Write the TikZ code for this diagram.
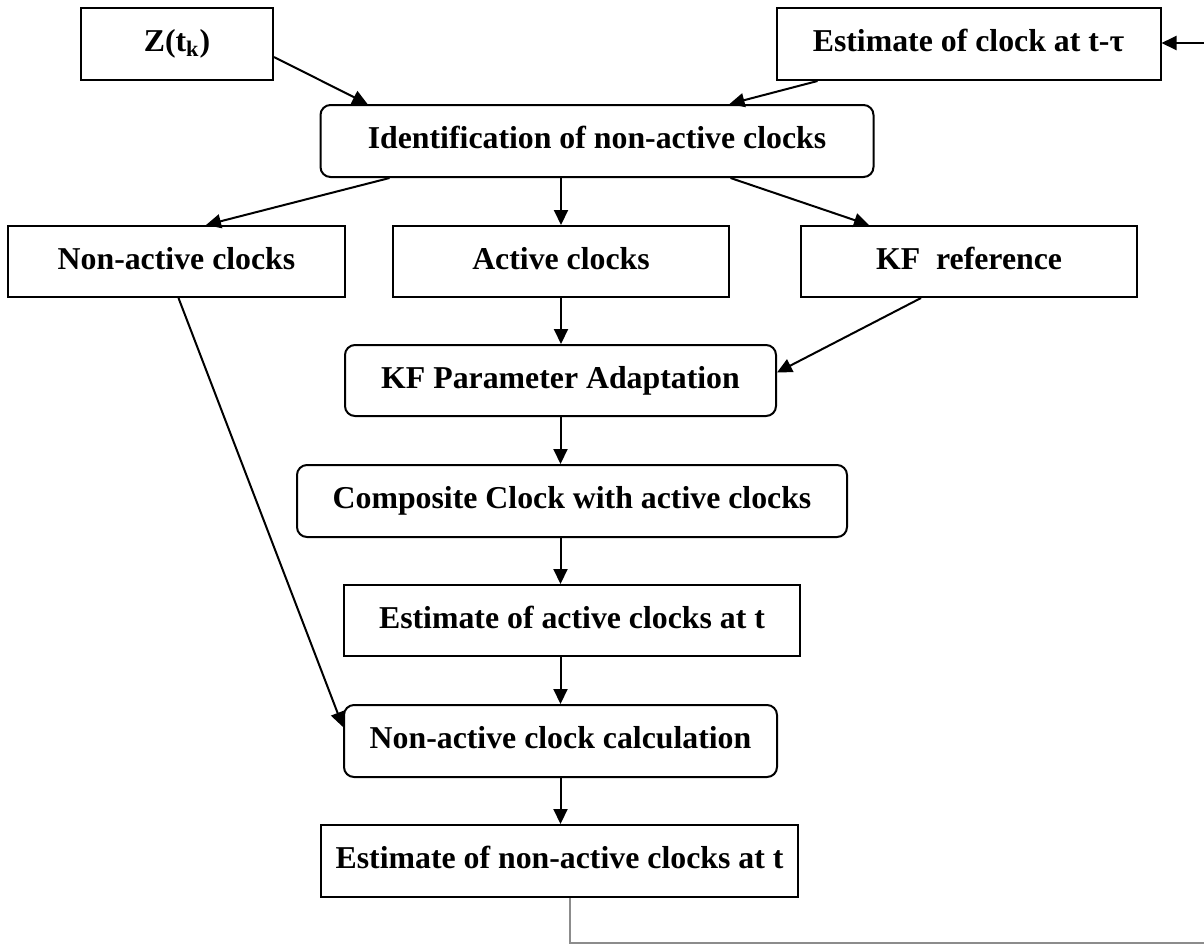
\documentclass[tikz,border=0pt]{standalone}
\usepackage{fontspec}
\setmainfont{Liberation Serif}
\usetikzlibrary{arrows.meta}
\begin{document}
\begin{tikzpicture}[x=0.5pt,y=-0.5pt,
  every node/.style={font=\fontsize{15.9}{19}\selectfont\bfseries, inner sep=0pt, line width=1pt, text height=10.5pt, text depth=3pt},
  sqbox/.style={draw, rectangle},
  rbox/.style={draw, rectangle, rounded corners=5pt},
  conn/.style={line width=1pt, -{Triangle[length=7.5pt,width=7pt]}},
  loopline/.style={line width=0.8pt, draw=black!45}]
\useasboundingbox (0,0) rectangle (1204,944);
\node[sqbox, minimum width=96pt, minimum height=36pt] (z) at (177,44) {Z(t\textsubscript{k})};
\node[sqbox, minimum width=192pt, minimum height=36pt] (est) at (968.5,44) {Estimate of clock at t-τ};
\node[rbox, minimum width=276.5pt, minimum height=36pt] (ident) at (597,141) {Identification of non-active clocks};
\node[sqbox, minimum width=168.5pt, minimum height=35.5pt] (noact) at (176.5,261.5) {Non-active clocks};
\node[sqbox, minimum width=168pt, minimum height=35.5pt] (act) at (561,261.5) {Active clocks};
\node[sqbox, minimum width=168pt, minimum height=35.5pt] (kfref) at (969,261.5) {KF\ \ reference};
\node[rbox, minimum width=215.5pt, minimum height=35.5pt] (kfp) at (560.5,380.5) {KF Parameter Adaptation};
\node[rbox, minimum width=275pt, minimum height=36pt] (comp) at (572,501) {Composite Clock with active clocks};
\node[sqbox, minimum width=228pt, minimum height=35.5pt] (estact) at (572,620.5) {Estimate of active clocks at t};
\node[rbox, minimum width=216.5pt, minimum height=36pt] (nacalc) at (560.5,741) {Non-active clock calculation};
\node[sqbox, minimum width=238.5pt, minimum height=36pt] (estna) at (559.5,861) {Estimate of non-active clocks at t};
\coordinate (rin) at (1204,43);
\coordinate (lb) at (570,943);
\coordinate (rb) at (1204,943);
\draw[conn] ([yshift=-6.5pt]z.east) -- ([xshift=24pt]ident.north west);
\draw[conn] ([xshift=21pt]est.south west) -- ([xshift=-72.5pt]ident.north east);
\draw[conn] (rin) -- (rin -| est.east);
\draw[conn] ([xshift=35pt]ident.south west) -- ([xshift=-70pt]noact.north east);
\draw[conn] (act.north |- ident.south) -- (act.north);
\draw[conn] ([xshift=-72pt]ident.south east) -- ([xshift=34.5pt]kfref.north west);
\draw[conn] (act.south) -- (act.south |- kfp.north);
\draw[conn] ([xshift=60.5pt]kfref.south west) -- ([yshift=4pt]kfp.east);
\draw[conn] (kfp.south) -- (kfp.south |- comp.north);
\draw[conn] (kfp.south |- comp.south) -- (kfp.south |- estact.north);
\draw[conn] (nacalc.north |- estact.south) -- (nacalc.north);
\draw[conn] ([xshift=1pt]noact.south) -- ([yshift=7pt]nacalc.west);
\draw[conn] (nacalc.south) -- (nacalc.south |- estna.north);
\draw[loopline] (lb |- estna.south) -- (lb) -- (rb);
\end{tikzpicture}
\end{document}
